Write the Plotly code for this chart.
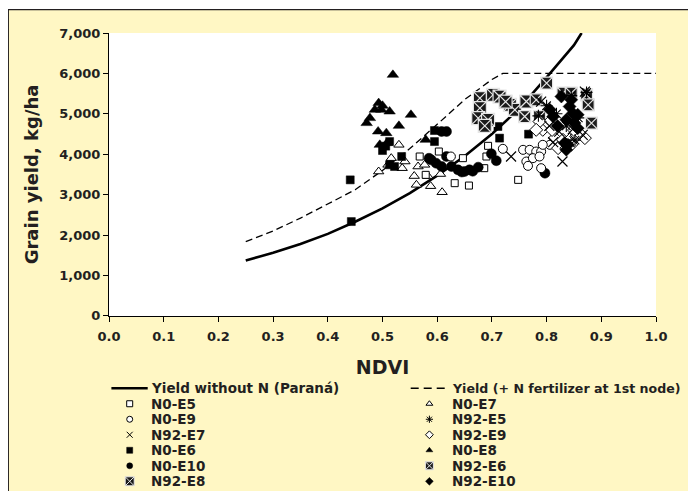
import plotly.graph_objects as go

# ---------------- data ----------------
curve_noN_x = [0.25, 0.30, 0.35, 0.40, 0.45, 0.50, 0.55, 0.60, 0.65, 0.70, 0.75, 0.80, 0.85, 0.864]
curve_noN_y = [1370, 1560, 1780, 2030, 2330, 2660, 3040, 3470, 3950, 4500, 5130, 5900, 6700, 7000]
curve_N_x = [0.25, 0.30, 0.35, 0.40, 0.45, 0.50, 0.55, 0.60, 0.65, 0.70, 0.72, 1.0]
curve_N_y = [1840, 2100, 2420, 2760, 3120, 3600, 4140, 4740, 5350, 5850, 6000, 6000]

n0_e5_x = [0.568, 0.603, 0.579, 0.632, 0.658, 0.647, 0.686, 0.690, 0.693, 0.748]
n0_e5_y = [3944, 4067, 3490, 3284, 3225, 3903, 3655, 3944, 4208, 3366]

n0_e7_x = [0.493, 0.530, 0.516, 0.541, 0.536, 0.565, 0.577, 0.558, 0.562, 0.588, 0.583, 0.606, 0.609, 0.510]
n0_e7_y = [3572, 4233, 3903, 3820, 3655, 3696, 3738, 3460, 3243, 3210, 3460, 3510, 3060, 3738]

n0_e9_x = [0.625, 0.720, 0.757, 0.769, 0.781, 0.790, 0.763, 0.775, 0.766, 0.790, 0.806, 0.793, 0.787]
n0_e9_y = [3944, 4134, 4109, 4109, 4067, 4067, 3820, 3903, 3713, 3655, 4233, 4233, 3944]

n92_e5_x = [0.873, 0.845, 0.800, 0.818, 0.858, 0.836, 0.785, 0.852]
n92_e5_y = [5530, 5450, 5200, 5000, 4900, 4700, 4950, 4350]

n92_e7_x = [0.735, 0.829, 0.870, 0.805, 0.823, 0.848, 0.842, 0.866, 0.812, 0.790]
n92_e7_y = [3944, 3820, 5550, 4700, 4560, 4620, 4300, 4480, 4300, 5300]

n92_e9_x = [0.793, 0.815, 0.830, 0.842, 0.854, 0.870, 0.821, 0.836, 0.845, 0.860, 0.803, 0.787, 0.781, 0.810, 0.850]
n92_e9_y = [4604, 4399, 4356, 4356, 4438, 4399, 4151, 4151, 4233, 4522, 4770, 4810, 4604, 4600, 4600]

n0_e6_x = [0.441, 0.443, 0.513, 0.500, 0.535, 0.513, 0.522, 0.595, 0.595, 0.711, 0.714, 0.767, 0.506]
n0_e6_y = [3366, 2334, 4314, 4092, 3944, 3738, 3696, 4587, 4314, 4686, 4399, 4497, 4200]

n0_e8_x = [0.519, 0.493, 0.486, 0.498, 0.513, 0.477, 0.471, 0.552, 0.530, 0.492, 0.507, 0.495, 0.508, 0.579, 0.500]
n0_e8_y = [5965, 5265, 5099, 5099, 5057, 4894, 4770, 4975, 4703, 4562, 4522, 4233, 4275, 4356, 5200]

n0_e10_x = [0.608, 0.617, 0.589, 0.598, 0.617, 0.608, 0.626, 0.638, 0.650, 0.659, 0.675, 0.699, 0.708, 0.797, 0.585, 0.645, 0.665]
n0_e10_y = [4562, 4562, 3861, 3779, 3944, 3696, 3696, 3614, 3572, 3614, 3680, 4010, 3840, 3532, 3900, 3560, 3580]

n92_e6_x = [0.800, 0.781, 0.830, 0.845, 0.873, 0.876, 0.882, 0.760, 0.787]
n92_e6_y = [5760, 5347, 5512, 5512, 5470, 5223, 4770, 4933, 4933]

n92_e8_x = [0.678, 0.678, 0.675, 0.693, 0.702, 0.714, 0.733, 0.742, 0.763, 0.687, 0.725]
n92_e8_y = [5388, 5141, 4894, 4851, 5470, 5428, 5223, 5099, 5305, 4700, 5300]

n92_e10_x = [0.827, 0.845, 0.842, 0.848, 0.836, 0.851, 0.857, 0.839, 0.836, 0.806, 0.812, 0.857, 0.833, 0.820]
n92_e10_y = [5428, 5347, 5181, 5017, 4851, 4770, 4646, 4233, 4109, 5099, 4933, 4975, 4275, 4700]

x_ticks = [0.0, 0.1, 0.2, 0.3, 0.4, 0.5, 0.6, 0.7, 0.8, 0.9, 1.0]
y_ticks = [0, 1000, 2000, 3000, 4000, 5000, 6000, 7000]

# ---------------- styling ----------------
INK = "#231f20"
YELLOW = "#fff7c4"
FONT = "DejaVu Sans"

# (name, x, y, symbol, size, fill, line color, line width, legend column, legend row)
series = [
    ("N0-E5", n0_e5_x, n0_e5_y, "square", 7, "white", "black", 1, 0, 1),
    ("N0-E9", n0_e9_x, n0_e9_y, "circle", 9, "white", "black", 1, 0, 2),
    ("N92-E7", n92_e7_x, n92_e7_y, "x-thin-open", 10, "black", "black", 1.2, 0, 3),
    ("N0-E7", n0_e7_x, n0_e7_y, "triangle-up", 9, "white", "black", 1, 1, 1),
    ("N92-E5", n92_e5_x, n92_e5_y, "asterisk-open", 10, "black", "black", 1.1, 1, 2),
    ("N92-E9", n92_e9_x, n92_e9_y, "diamond", 10, "white", "black", 1, 1, 3),
    ("N0-E6", n0_e6_x, n0_e6_y, "square", 8, "black", "black", 0.5, 0, 4),
    ("N0-E10", n0_e10_x, n0_e10_y, "circle", 10, "black", "black", 0.5, 0, 5),
    ("N0-E8", n0_e8_x, n0_e8_y, "triangle-up", 10, "black", "black", 0.5, 1, 4),
    ("N92-E6", n92_e6_x, n92_e6_y, "square-x", 12, "#1e1e1e", "#e6e6e6", 1.2, 1, 5),
    ("N92-E8", n92_e8_x, n92_e8_y, "square-x", 13, "#1a1a1a", "#e6e6e6", 1.2, 0, 6),
    ("N92-E10", n92_e10_x, n92_e10_y, "diamond", 10, "black", "black", 0.5, 1, 6),
]

# page places the figure 8px in from the top-left (body margin)
OFF = 8
W, H = 696 - OFF, 491 - OFF
# screen-pixel geometry of the main plot area
SX0, SX1, SY0, SY1 = 109.3, 656.3, 33.3, 316.0
ML = SX0 - OFF
MR = W - (SX1 - OFF)
MT = SY0 - OFF
MB = 2.0
INNER_H = H - MT - MB
INNER_BOTTOM = OFF + H - MB   # screen y of inner-area bottom


def sx_paper(px):
    return (px - SX0) / (SX1 - SX0)


def sy_paper(py):
    return (INNER_BOTTOM - py) / INNER_H


main_bottom = sy_paper(SY1)

fig = go.Figure()

# reference curves
fig.add_trace(go.Scatter(x=curve_N_x, y=curve_N_y, mode="lines",
                         line=dict(color="black", width=1.3, dash="7px,4px"),
                         name="Yield (+ N fertilizer at 1st node)", showlegend=False))
fig.add_trace(go.Scatter(x=curve_noN_x, y=curve_noN_y, mode="lines",
                         line=dict(color="black", width=2.6),
                         name="Yield without N (Paraná)", showlegend=False))

draw_order = ["N0-E8", "N0-E7", "N0-E5", "N0-E6", "N0-E10", "N0-E9", "N92-E8", "N92-E6",
              "N92-E9", "N92-E7", "N92-E5", "N92-E10"]
lookup = {s[0]: s for s in series}
for nm in draw_order:
    name, xs, ys, sym, size, fill, lc, lw, col, row = lookup[nm]
    fig.add_trace(go.Scatter(x=xs, y=ys, mode="markers", name=name, showlegend=False,
                             marker=dict(symbol=sym, size=size, color=fill,
                                         line=dict(color=lc, width=lw))))

# ---------------- hand-built two-column legend (own helper axes) ----------------
ROW0, ROWSTEP = 388.3, 15.5
LEG_TOP = 379.0
col_line = [(111.7, 148.0), (411.0, 449.7)]
col_sym = [130.0, 429.7]
col_text = [149.7, 450.0]
legend_font = dict(family=FONT, size=13.5, color=INK, weight="bold")

fig.add_trace(go.Scatter(x=list(col_line[0]), y=[0, 0], mode="lines", xaxis="x2", yaxis="y2",
                         line=dict(color="black", width=2.6), showlegend=False,
                         hoverinfo="skip"))
fig.add_trace(go.Scatter(x=list(col_line[1]), y=[0, 0], mode="lines", xaxis="x2", yaxis="y2",
                         line=dict(color="black", width=1.3, dash="8px,5px"),
                         showlegend=False, hoverinfo="skip"))

annotations = [
    dict(x=col_text[0], y=0, xref="x2", yref="y2", text="Yield without N (Paraná)",
         showarrow=False, xanchor="left", yanchor="middle", font=legend_font),
    dict(x=col_text[1], y=0, xref="x2", yref="y2", text="Yield (+ N fertilizer at 1st node)",
         showarrow=False, xanchor="left", yanchor="middle",
         font=dict(family=FONT, size=12.6, color=INK, weight="bold")),
]
for name, xs, ys, sym, size, fill, lc, lw, col, row in series:
    fig.add_trace(go.Scatter(x=[col_sym[col]], y=[row], mode="markers", xaxis="x2", yaxis="y2",
                             showlegend=False, hoverinfo="skip",
                             marker=dict(symbol=sym, size=max(6, size - 4), color=fill,
                                         line=dict(color=lc, width=min(lw, 1)))))
    annotations.append(dict(x=col_text[col], y=row, xref="x2", yref="y2", text=name,
                            showarrow=False, xanchor="left", yanchor="middle",
                            font=legend_font))

row_top = (LEG_TOP - ROW0) / ROWSTEP
row_bot = (INNER_BOTTOM - ROW0) / ROWSTEP

shapes = [
    # cream panel behind everything
    dict(type="rect", xref="paper", yref="paper", x0=sx_paper(8.6), x1=sx_paper(720),
         y0=sy_paper(520), y1=sy_paper(10), fillcolor=YELLOW,
         line=dict(width=0), layer="below"),
    # white plotting panel
    dict(type="rect", xref="x", yref="y", x0=0, x1=1, y0=0, y1=7000,
         fillcolor="white", line=dict(width=0), layer="below"),
    # thin white strip above the frame
    dict(type="rect", xref="paper", yref="paper", x0=-1, x1=2,
         y0=sy_paper(10), y1=sy_paper(-20), fillcolor="white",
         line=dict(width=0), layer="above"),
    # panel frame
    dict(type="rect", xref="paper", yref="paper", x0=sx_paper(8.6), x1=sx_paper(720),
         y0=sy_paper(520), y1=sy_paper(10),
         line=dict(color=INK, width=1.3), layer="above"),
]

fig.update_layout(
    template="none",
    width=W, height=H,
    margin=dict(l=ML, r=MR, t=MT, b=MB, pad=0, autoexpand=False),
    paper_bgcolor=YELLOW, plot_bgcolor="rgba(0,0,0,0)",
    showlegend=False,
    shapes=shapes, annotations=annotations,
    font=dict(family=FONT, color=INK),
    xaxis=dict(domain=[0, 1], anchor="y", range=[0, 1], tickvals=x_ticks,
               ticktext=[f"{v:.1f}" for v in x_ticks],
               showline=True, linecolor="black", linewidth=1, ticks="outside", ticklen=5,
               tickwidth=1, tickcolor="black", showgrid=False, zeroline=False,
               automargin=False, ticklabelstandoff=4,
               tickfont=dict(family=FONT, size=13, color=INK, weight="bold"),
               title=dict(text="NDVI", standoff=17,
                          font=dict(family=FONT, size=19, color=INK, weight="bold"))),
    yaxis=dict(domain=[main_bottom, 1], anchor="x", range=[0, 7000], tickvals=y_ticks,
               tickformat=",d", showline=True, linecolor="black", linewidth=1,
               ticks="outside", ticklen=5, tickwidth=1, tickcolor="black", showgrid=False,
               zeroline=False, automargin=False,
               tickfont=dict(family=FONT, size=13, color=INK, weight="bold"),
               title=dict(text="Grain yield, kg/ha", standoff=15,
                          font=dict(family=FONT, size=18, color=INK, weight="bold"))),
    xaxis2=dict(domain=[0, 1], anchor="y2", range=[SX0, SX1], visible=False,
                fixedrange=True),
    yaxis2=dict(domain=[0, sy_paper(LEG_TOP)], anchor="x2", range=[row_bot, row_top],
                visible=False, fixedrange=True),
)

fig.write_html("out.html")
